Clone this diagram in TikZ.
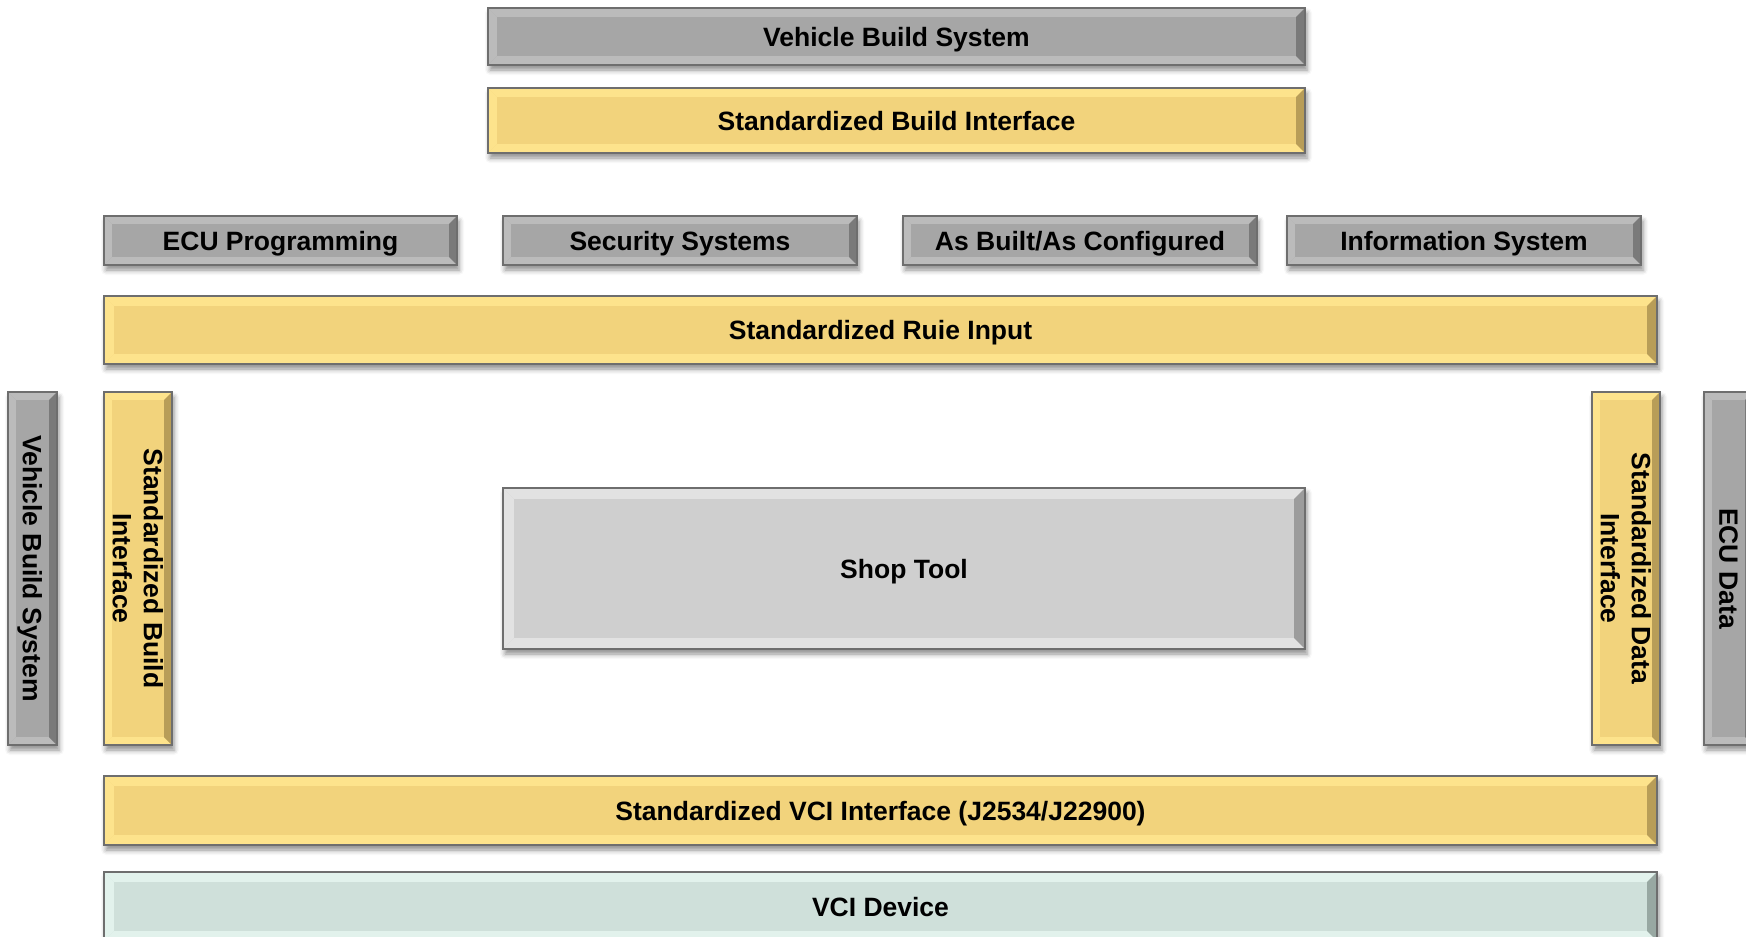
\documentclass[tikz,border=0pt]{standalone}
\usepackage{fontspec}
\setmainfont{Liberation Sans}
\usetikzlibrary{shadows.blur}

% palettes: base / light bevel / dark bevel
\definecolor{yb}{HTML}{F2D37C}\definecolor{yl}{HTML}{FDE38C}\definecolor{yd}{HTML}{B89D58}
\definecolor{gb}{HTML}{A6A6A6}\definecolor{gl}{HTML}{BBBBBB}\definecolor{gd}{HTML}{7A7A7A}
\definecolor{sb}{HTML}{CFCFCF}\definecolor{sl}{HTML}{E2E2E2}\definecolor{sd}{HTML}{9C9C9C}
\definecolor{vb}{HTML}{CFE0DA}\definecolor{vl}{HTML}{E2F2EC}\definecolor{vd}{HTML}{98A8A2}
\definecolor{edgec}{HTML}{6E6E6E}

\tikzset{
  panel/.style={inner sep=0pt, outer sep=0pt, draw=none,
    blur shadow={shadow xshift=2pt, shadow yshift=-5pt, shadow blur radius=5pt, shadow opacity=45}},
  rim/.style={draw=edgec, line width=1.3pt},
  lbl/.style={font=\bfseries\fontsize{26.5}{31}\selectfont, text=black, align=center,
    inner sep=0pt, text depth=0pt}
}

\newlength\bw
% name, x1, y1, x2, y2, palette, rotation, text
\newcommand\bevbox[8]{%
  \node[panel, fill=#6b, minimum width={(#4-#2)*1pt}, minimum height={(#5-#3)*1pt}]
    (#1) at ({(#2+#4)/2},{(#3+#5)/2}) {};
  \fill[#6l] (#1.north west) -- (#1.north east) -- ([xshift=-\bw,yshift=-\bw]#1.north east)
    -- ([xshift=\bw,yshift=-\bw]#1.north west) -- cycle;
  \fill[#6l] (#1.north west) -- ([xshift=\bw,yshift=-\bw]#1.north west)
    -- ([xshift=\bw,yshift=\bw]#1.south west) -- (#1.south west) -- cycle;
  \fill[#6l] (#1.south west) -- ([xshift=\bw,yshift=\bw]#1.south west)
    -- ([xshift=-\bw,yshift=\bw]#1.south east) -- (#1.south east) -- cycle;
  \fill[#6d] (#1.north east) -- (#1.south east) -- ([xshift=-\bw,yshift=\bw]#1.south east)
    -- ([xshift=-\bw,yshift=-\bw]#1.north east) -- cycle;
  \fill[#6b] ([xshift=\bw,yshift=-\bw]#1.north west) rectangle ([xshift=-\bw,yshift=\bw]#1.south east);
  \draw[rim] (#1.south west) rectangle (#1.north east);
  \node[lbl, rotate=#7] (#1-t) at (#1) {#8};
}

\begin{document}
\begin{tikzpicture}[x=1pt, y=-1pt]
\useasboundingbox (0,0) rectangle (1746,937);

\setlength\bw{9pt}
\bevbox{vbstop}{488}{8}{1305}{65}{g}{0}{Vehicle Build System}
\bevbox{sbitop}{488}{88}{1305}{153}{y}{0}{Standardized Build Interface}

\setlength\bw{8pt}
\bevbox{ecup}{104}{216}{457}{265}{g}{0}{ECU Programming}
\bevbox{secs}{503}{216}{857}{265}{g}{0}{Security Systems}
\bevbox{asbc}{903}{216}{1257}{265}{g}{0}{As Built/As Configured}
\bevbox{info}{1287}{216}{1641}{265}{g}{0}{Information System}

\setlength\bw{10pt}
\bevbox{rule}{104}{296}{1657}{364}{y}{0}{Standardized Ruie Input}

\setlength\bw{8pt}
\bevbox{vbsleft}{8}{392}{57}{745}{g}{-90}{Vehicle Build System}
\bevbox{sbileft}{104}{392}{172}{745}{y}{-90}{Standardized Build\\Interface}
\bevbox{sdiright}{1592}{392}{1660}{745}{y}{-90}{Standardized Data\\Interface}
\bevbox{ecudata}{1704}{392}{1753}{745}{g}{-90}{ECU Data}

\setlength\bw{11pt}
\bevbox{shop}{503}{488}{1305}{649}{s}{0}{Shop Tool}

\setlength\bw{10pt}
\bevbox{vci}{104}{776}{1657}{845}{y}{0}{Standardized VCI Interface (J2534/J22900)}
\bevbox{vcidev}{104}{872}{1657}{941}{v}{0}{VCI Device}
\end{tikzpicture}
\end{document}
